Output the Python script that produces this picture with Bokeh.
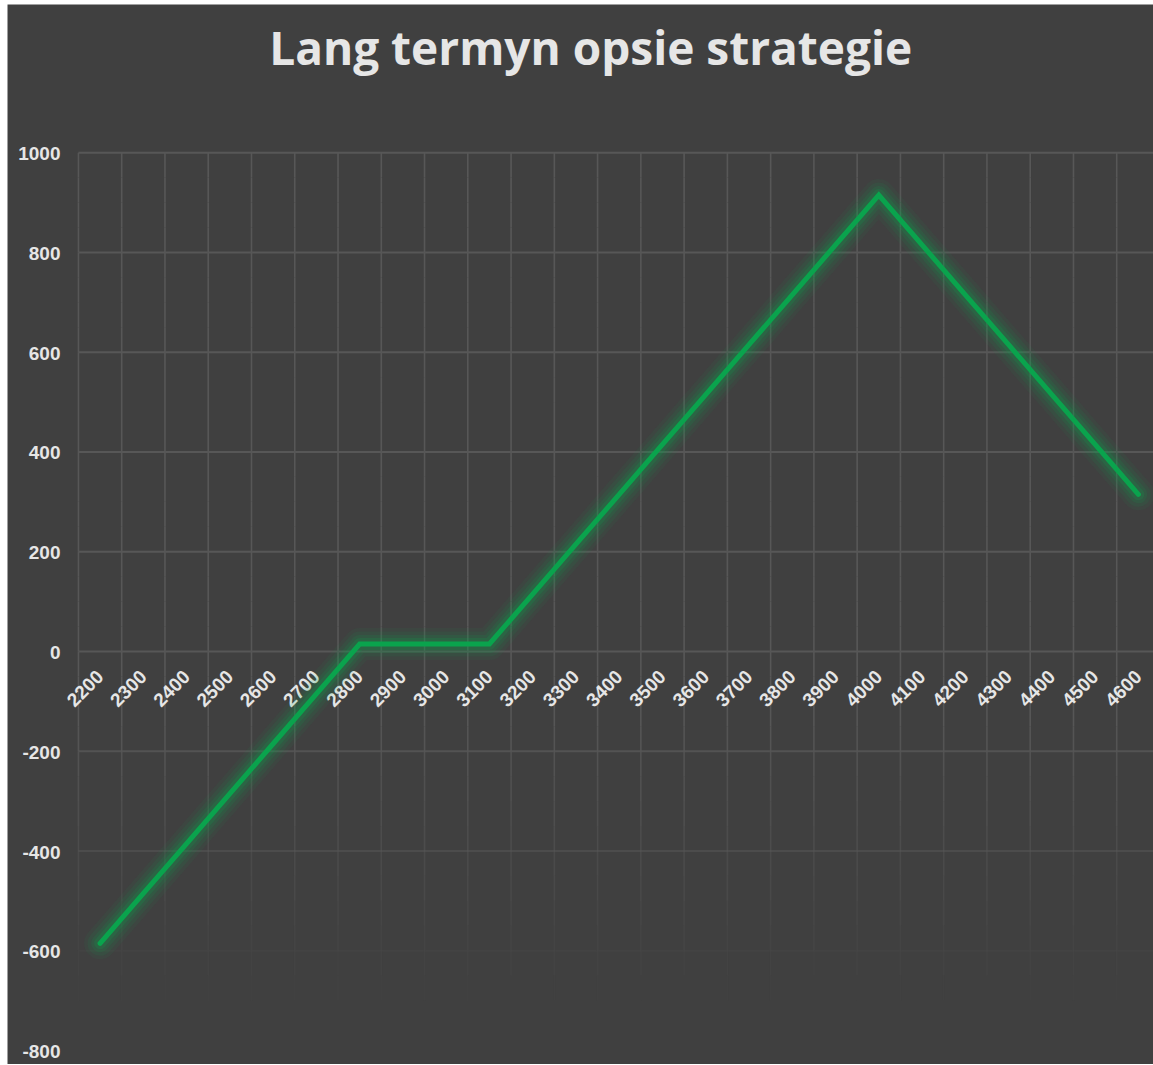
import numpy as np
from bokeh.plotting import figure
from bokeh.models import Range1d
from bokeh.embed import file_html
from bokeh.resources import INLINE
from bokeh.core.properties import value

# ---- data ----
strikes = [2200, 2300, 2400, 2500, 2600, 2700, 2800, 2900, 3000, 3100, 3200, 3300, 3400,
           3500, 3600, 3700, 3800, 3900, 4000, 4100, 4200, 4300, 4400, 4500, 4600]
payoff = [-585, -485, -385, -285, -185, -85, 15, 15, 15, 15, 115, 215, 315,
          415, 515, 615, 715, 815, 915, 815, 715, 615, 515, 415, 315]
x_labels = [str(s) for s in strikes]
y_ticks = [-800, -600, -400, -200, 0, 200, 400, 600, 800, 1000]
y_labels = [str(v) for v in y_ticks]
title_text = "Lang termyn opsie strategie"

BG = "#404040"
GRID = "#575757"
TXT = "#e6e6e6"
GREEN = "#0aa34d"

X_LEFT = 2150          # left edge of the gridded area (half a step before the first strike)
X_MIN, X_MAX = 1986, 4635
Y_MIN, Y_MAX = -828, 1297

p = figure(width=1146, height=1060, output_backend="svg", toolbar_location=None,
           x_range=Range1d(X_MIN, X_MAX), y_range=Range1d(Y_MIN, Y_MAX),
           min_border_left=0, min_border_right=0, min_border_top=0, min_border_bottom=0)
p.margin = (4, 0, 0, 7)
p.background_fill_color = BG
p.border_fill_color = BG
p.outline_line_color = None
p.xgrid.visible = False
p.ygrid.visible = False
p.xaxis.visible = False
p.yaxis.visible = False

# ---- grid (fading toward the bottom) ----
def fade(v):
    if v >= -100:
        return 1.0
    return max(0.0, 1.0 - (-100 - v) / 600.0)

hx0 = [X_LEFT] * len(y_ticks)
hx1 = [X_MAX] * len(y_ticks)
p.segment(x0=hx0, y0=y_ticks, x1=hx1, y1=y_ticks, line_color=GRID, line_width=2,
          line_alpha=[fade(v) for v in y_ticks])

bounds = [s - 50 for s in strikes]
steps = list(range(1000, -800, -50))
sx, sy0, sy1, sa = [], [], [], []
for b in bounds:
    for i in range(len(steps) - 1):
        sx.append(b)
        sy0.append(steps[i])
        sy1.append(steps[i + 1])
        sa.append(fade((steps[i] + steps[i + 1]) / 2))
p.segment(x0=sx, y0=sy0, x1=sx, y1=sy1, line_color=GRID, line_width=1.6, line_alpha=sa)

# ---- title ----
p.text(x=[3334], y=[1212], text=[title_text], text_align="center", text_baseline="alphabetic",
       text_color=TXT, text_font=value("Open Sans"), text_font_style="bold",
       text_font_size="46px")

# ---- value labels (left) ----
p.text(x=[X_LEFT] * len(y_ticks), y=y_ticks, text=y_labels, text_align="right",
       text_baseline="middle", x_offset=-18, y_offset=1,
       text_color=TXT, text_font=value("Liberation Sans"), text_font_style="bold",
       text_font_size="19px")

# ---- category labels along the zero line ----
p.text(x=strikes, y=[0] * len(strikes), text=x_labels, angle=np.pi / 4,
       text_align="right", text_baseline="middle", x_offset=0, y_offset=22,
       text_color=TXT, text_font=value("Liberation Sans"), text_font_style="bold",
       text_font_size="19px")

# ---- glowing line ----
for w, a in [(32, 0.06), (25, 0.09), (18, 0.12), (12, 0.18)]:
    p.line(strikes, payoff, line_color=GREEN, line_width=w, line_alpha=a,
           line_join="round", line_cap="round")
p.line(strikes, payoff, line_color=GREEN, line_width=5, line_join="miter", line_cap="round")

open("out.html", "w").write(file_html(p, INLINE))
